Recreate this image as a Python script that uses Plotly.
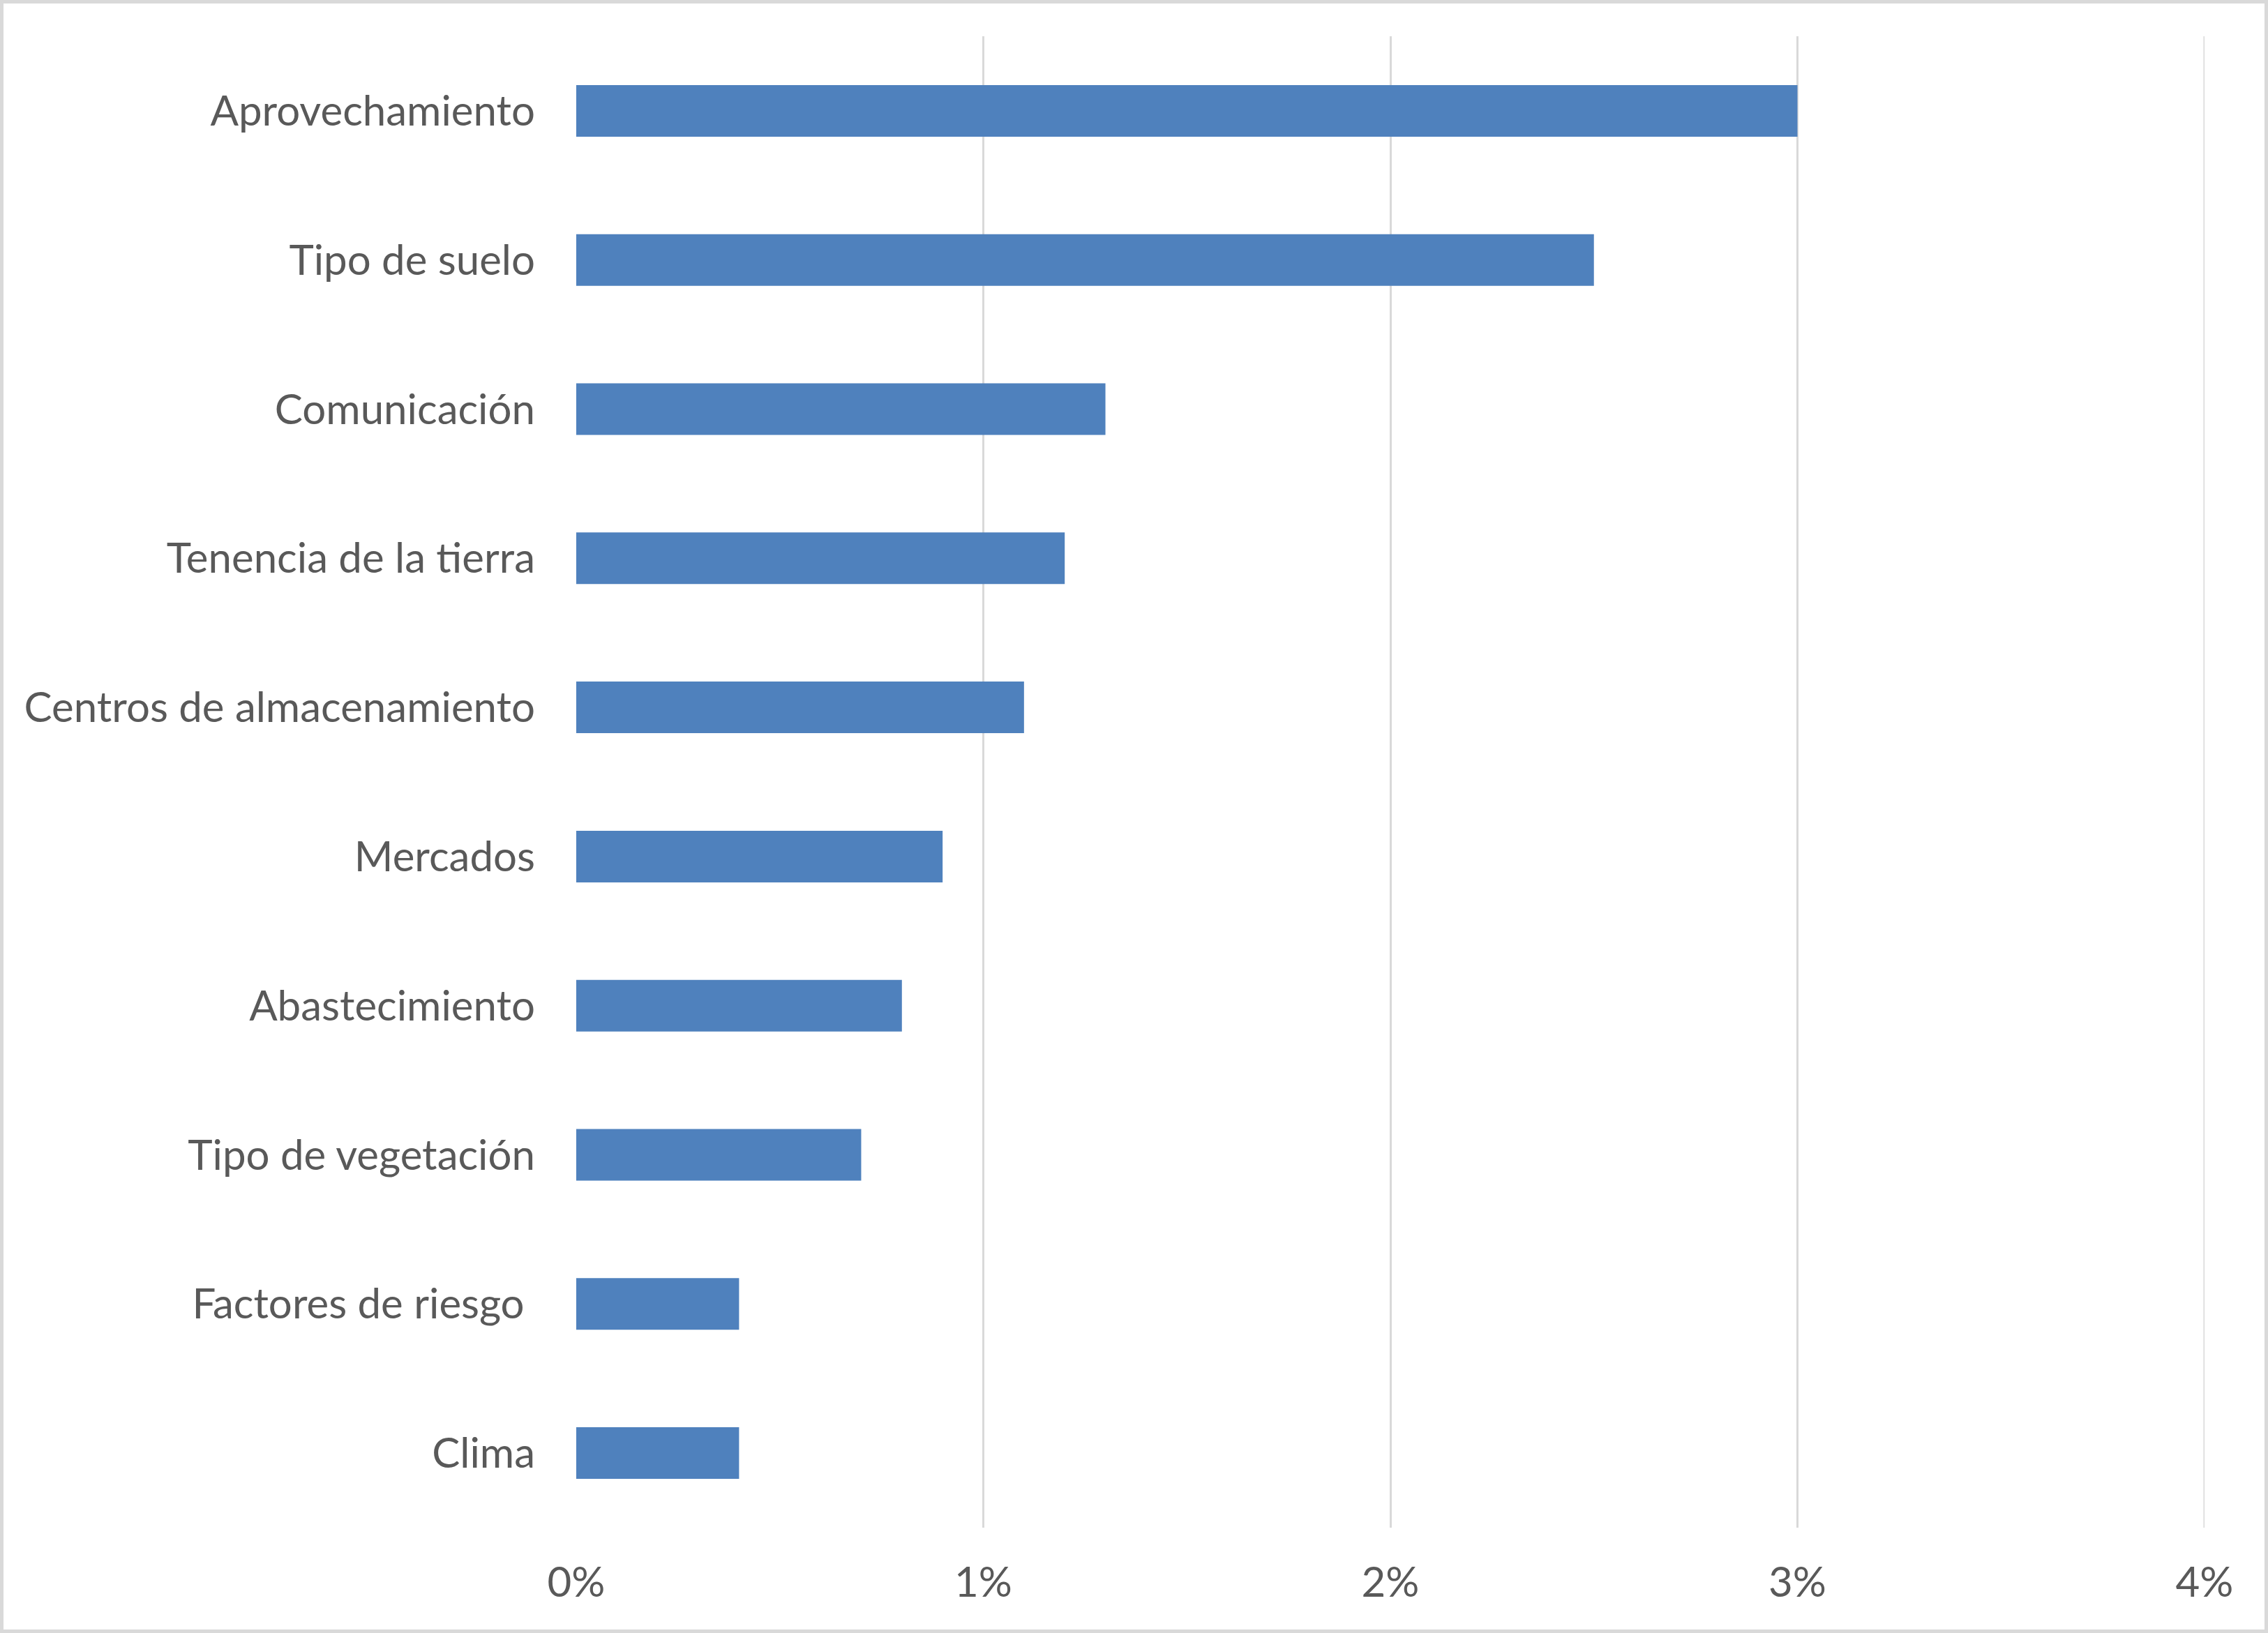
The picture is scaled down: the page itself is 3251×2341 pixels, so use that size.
import plotly.graph_objects as go

categories = ["Aprovechamiento", "Tipo de suelo", "Comunicación", "Tenencia de la tierra",
              "Centros de almacenamiento", "Mercados", "Abastecimiento", "Tipo de vegetación",
              "Factores de riesgo ", "Clima"]
values = [0.030, 0.025, 0.013, 0.012, 0.011, 0.009, 0.008, 0.007, 0.004, 0.004]
x_ticks = [0, 0.01, 0.02, 0.03, 0.04]
x_tick_labels = ["0%", "1%", "2%", "3%", "4%"]

W, H = 3251, 2341
L, R, T, B = 826, 91, 52, 151
pw, ph = W - L - R, H - T - B

fig = go.Figure(go.Bar(
    x=values, y=categories, orientation="h",
    marker=dict(color="#4f81bd", line=dict(width=0)),
))

font = dict(family="Lato, Carlito, Calibri, sans-serif", size=60, color="#595959")

fig.update_layout(
    width=W, height=H,
    margin=dict(l=L, r=R, t=T, b=B, pad=0),
    paper_bgcolor="white", plot_bgcolor="white",
    bargap=0.654,
    showlegend=False,
    font=font,
    xaxis=dict(range=[0, 0.04], tickvals=x_ticks, ticktext=x_tick_labels,
               showgrid=True, gridcolor="#d9d9d9", gridwidth=3,
               zeroline=False, showline=False, ticks="",
               ticklabelstandoff=38, tickfont=font, fixedrange=True),
    yaxis=dict(autorange="reversed", showgrid=False, zeroline=False, showline=False,
               ticks="", ticklabelstandoff=58, tickfont=font),
    shapes=[
        dict(type="line", xref="x", yref="paper", x0=x_ticks[-1], x1=x_ticks[-1], y0=0, y1=1,
             line=dict(color="#d9d9d9", width=3), layer="below"),
        dict(type="rect", xref="paper", yref="paper",
             x0=-(L - 2.5) / pw, x1=1 + (R - 2.5) / pw,
             y0=-(B - 2.5) / ph, y1=1 + (T - 2.5) / ph,
             line=dict(color="#d9d9d9", width=5), fillcolor="rgba(0,0,0,0)", layer="below"),
    ],
)

fig.write_html("out.html", config={"displayModeBar": False},
               post_script="document.body.style.margin='0';document.body.style.overflow='hidden';")
